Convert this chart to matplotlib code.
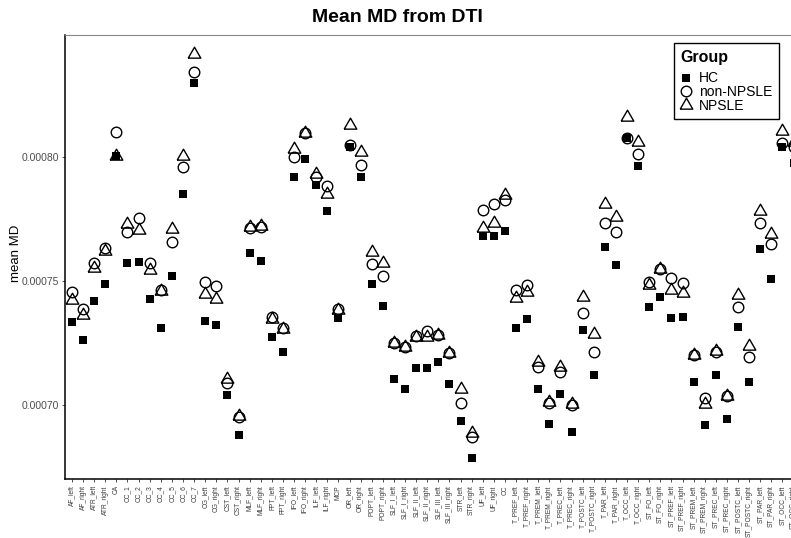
import numpy as np
import matplotlib
matplotlib.use("Agg")
import matplotlib.pyplot as plt
from matplotlib.lines import Line2D

plt.rcParams['font.family'] = ['Liberation Sans', 'DejaVu Sans']

tracts = ["AF_left", "AF_right", "ATR_left", "ATR_right", "CA", "CC_1", "CC_2", "CC_3",
          "CC_4", "CC_5", "CC_6", "CC_7", "CG_left", "CG_right", "CST_left", "CST_right",
          "MLF_left", "MLF_right", "FPT_left", "FPT_right", "IFO_left", "IFO_right",
          "ILF_left", "ILF_right", "MCP", "OR_left", "OR_right", "POPT_left", "POPT_right",
          "SLF_I_left", "SLF_I_right", "SLF_II_left", "SLF_II_right", "SLF_III_left",
          "SLF_III_right", "STR_left", "STR_right", "UF_left", "UF_right", "CC",
          "T_PREF_left", "T_PREF_right", "T_PREM_left", "T_PREM_right", "T_PREC_left",
          "T_PREC_right", "T_POSTC_left", "T_POSTC_right", "T_PAR_left", "T_PAR_right",
          "T_OCC_left", "T_OCC_right", "ST_FO_left", "ST_FO_right", "ST_PREF_left",
          "ST_PREF_right", "ST_PREM_left", "ST_PREM_right", "ST_PREC_left", "ST_PREC_right",
          "ST_POSTC_left", "ST_POSTC_right", "ST_PAR_left", "ST_PAR_right", "ST_OCC_left",
          "ST_OCC_right"]

hc = [0.0007335, 0.0007261, 0.0007418, 0.0007488, 0.0008005, 0.0007574, 0.0007575, 0.0007426,
      0.0007312, 0.0007521, 0.0007851, 0.0008297, 0.0007339, 0.0007321, 0.0007039, 0.0006878,
      0.0007612, 0.0007582, 0.0007273, 0.0007215, 0.0007921, 0.0007991, 0.0007887, 0.0007782,
      0.0007351, 0.0008039, 0.0007921, 0.0007487, 0.0007399, 0.0007104, 0.0007063, 0.0007150,
      0.0007148, 0.0007175, 0.0007083, 0.0006937, 0.0006785, 0.0007683, 0.0007683, 0.0007702,
      0.0007309, 0.0007347, 0.0007063, 0.0006923, 0.0007044, 0.0006891, 0.0007302, 0.0007120,
      0.0007636, 0.0007565, 0.0008075, 0.0007964, 0.0007396, 0.0007434, 0.0007350, 0.0007354,
      0.0007094, 0.0006918, 0.0007121, 0.0006942, 0.0007316, 0.0007094, 0.0007629, 0.0007507,
      0.0008039, 0.0007975]

non_npsle = [0.0007456, 0.0007386, 0.0007574, 0.0007632, 0.0008102, 0.0007699, 0.0007753,
             0.0007574, 0.0007465, 0.0007658, 0.0007961, 0.0008344, 0.0007497, 0.0007480,
             0.0007087, 0.0006953, 0.0007713, 0.0007719, 0.0007354, 0.0007309, 0.0008001,
             0.0008096, 0.0007921, 0.0007883, 0.0007386, 0.0008048, 0.0007968, 0.0007569,
             0.0007521, 0.0007249, 0.0007235, 0.0007278, 0.0007300, 0.0007282, 0.0007211,
             0.0007008, 0.0006872, 0.0007786, 0.0007812, 0.0007827, 0.0007464, 0.0007483,
             0.0007152, 0.0007007, 0.0007134, 0.0007000, 0.0007370, 0.0007212, 0.0007733,
             0.0007699, 0.0008075, 0.0008012, 0.0007495, 0.0007547, 0.0007511, 0.0007493,
             0.0007202, 0.0007029, 0.0007212, 0.0007036, 0.0007396, 0.0007192, 0.0007735,
             0.0007649, 0.0008055, 0.0008040]

npsle = [0.0007423, 0.0007363, 0.0007551, 0.0007622, 0.0008005, 0.0007729, 0.0007706, 0.0007544,
         0.0007458, 0.0007710, 0.0008004, 0.0008415, 0.0007446, 0.0007427, 0.0007104, 0.0006957,
         0.0007717, 0.0007722, 0.0007347, 0.0007305, 0.0008031, 0.0008096, 0.0007931, 0.0007850,
         0.0007383, 0.0008130, 0.0008021, 0.0007618, 0.0007571, 0.0007250, 0.0007235, 0.0007276,
         0.0007273, 0.0007282, 0.0007211, 0.0007065, 0.0006888, 0.0007712, 0.0007735, 0.0007847,
         0.0007430, 0.0007457, 0.0007175, 0.0007013, 0.0007152, 0.0007002, 0.0007437, 0.0007286,
         0.0007810, 0.0007757, 0.0008163, 0.0008062, 0.0007484, 0.0007547, 0.0007464, 0.0007450,
         0.0007202, 0.0007004, 0.0007219, 0.0007036, 0.0007444, 0.0007239, 0.0007782, 0.0007688,
         0.0008106, 0.0008062]

# equilateral triangle, centred on its centroid (like R pch 2)
tri = [(-1, -0.577), (1, -0.577), (0, 1.155), (-1, -0.577)]

fig = plt.figure(figsize=(7.91, 5.38), dpi=100)
ax = fig.add_axes([0.0826, 0.1097, 0.929, 0.8252])

x = np.arange(len(tracts))
ax.plot(x, hc, ls='none', marker='s', ms=6.3, mfc='black', mec='black', mew=0, clip_on=False)
ax.plot(x, non_npsle, ls='none', marker='o', ms=7.6, mfc='none', mec='black', mew=1.0, clip_on=False)
ax.plot(x, npsle, ls='none', marker=tri, ms=10.5, mfc='none', mec='black', mew=1.0, clip_on=False)

ax.set_xlim(-0.6, len(tracts) - 0.4)
ax.set_ylim(0.00067016, 0.00084919)
ax.set_xticks(x)
ax.set_xticklabels(tracts, rotation=90, fontsize=4.8, color='#3a3a3a')
ax.set_yticks([0.00070, 0.00075, 0.00080])
ax.set_yticklabels(["0.00070", "0.00075", "0.00080"], fontsize=7.5, color='#4d4d4d')
ax.tick_params(axis='both', length=2.5, width=0.6, color='#333333', pad=2)

for s in ['left', 'bottom']:
    ax.spines[s].set_linewidth(1.1)
    ax.spines[s].set_color('black')
ax.spines['top'].set_color('#888888')
ax.spines['top'].set_linewidth(0.8)
ax.spines['right'].set_visible(False)

fig.text(0.503, 0.967, "Mean MD from DTI", ha='center', va='center',
         fontsize=14, fontweight='bold')
fig.text(0.02, 1 - 253 / 538, "mean MD", rotation=90, ha='center', va='center', fontsize=9.5)

handles = [
    Line2D([], [], ls='none', marker='s', ms=6.3, mfc='black', mec='black', mew=0),
    Line2D([], [], ls='none', marker='o', ms=7.6, mfc='none', mec='black', mew=1.0),
    Line2D([], [], ls='none', marker=tri, ms=10.5, mfc='none', mec='black', mew=1.0),
]
leg = fig.legend(handles, ["HC", "non-NPSLE", "NPSLE"], title="Group",
                 loc='upper right', bbox_to_anchor=(778.5 / 791, 1 - 43.3 / 538),
                 fontsize=10, title_fontsize=11.5, frameon=True, fancybox=False,
                 edgecolor='black', framealpha=1, borderpad=0.45, labelspacing=-0.02,
                 handlelength=0.9, handletextpad=0.45, borderaxespad=0)
leg.get_title().set_fontweight('bold')
leg._legend_box.align = "left"
leg._legend_box.sep = 5
leg.get_frame().set_linewidth(1.0)

fig.savefig("out.png", dpi=100)
